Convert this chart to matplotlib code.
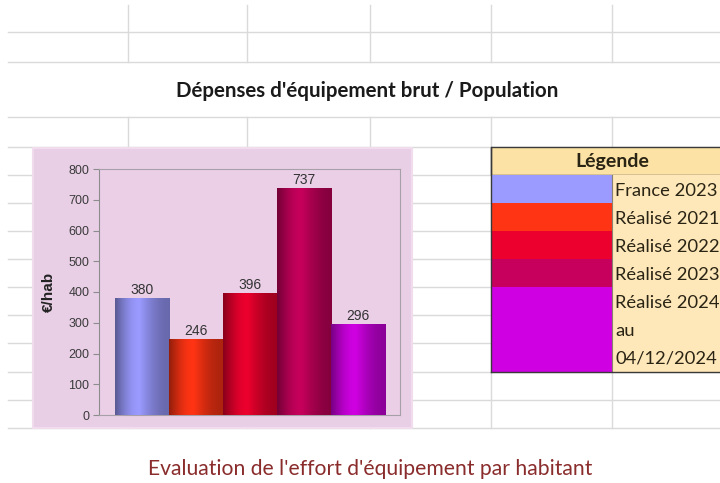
import numpy as np
import matplotlib
matplotlib.use("Agg")
import matplotlib.pyplot as plt
import matplotlib.colors as mcolors
from matplotlib.patches import Rectangle

# données du graphique
series = ["France 2023", "Réalisé 2021", "Réalisé 2022", "Réalisé 2023",
          "Réalisé 2024\nau\n04/12/2024"]
valeurs = [380, 246, 396, 737, 296]
couleurs = ["#9a9aff", "#ff3414", "#ec002e", "#c6005c", "#cf00e2"]
yticks = [0, 100, 200, 300, 400, 500, 600, 700, 800]

titre = "Dépenses d'équipement brut / Population"
sous_titre = "Evaluation de l'effort d'équipement par habitant"

W, H = 720, 483
fig = plt.figure(figsize=(W / 100, H / 100), dpi=100)
fig.patch.set_facecolor("white")

# fond "feuille excel" en coordonnées pixels
ax0 = fig.add_axes([0, 0, 1, 1])
ax0.set_xlim(0, W)
ax0.set_ylim(H, 0)
ax0.axis("off")

grid_col = "#dadada"
rows = [32, 62, 117, 147, 175, 203, 231, 259, 287, 315, 343, 372, 400, 428]
for y in rows:
    ax0.plot([8, W], [y, y], color=grid_col, lw=1, zorder=1)
for x in [128, 247, 370, 491, 612]:
    ax0.plot([x, x], [5, 62], color=grid_col, lw=1, zorder=1)
    ax0.plot([x, x], [117, 428], color=grid_col, lw=1, zorder=1)

ax0.text(176, 97, titre, fontsize=14.8, fontweight="bold", family="Lato",
         color="#1a1a1a", ha="left", va="baseline", zorder=3)
ax0.text(148, 475, sous_titre, fontsize=15.2, family="Lato",
         color="#8a2c2c", ha="left", va="baseline", zorder=3)

# zone du graphique
ax0.add_patch(Rectangle((33, 148), 379, 280, facecolor="#e9cfe6",
                        edgecolor="#f1dcee", lw=1.5, zorder=2))

# tableau légende
ax0.add_patch(Rectangle((491, 147), 240, 28, facecolor="#fde2a6",
                        edgecolor="#3a3a3a", lw=1, zorder=2))
ax0.text(612, 167, "Légende", fontsize=14, fontweight="bold", family="Lato",
         color="#2a2414", ha="center", va="baseline", zorder=3)
bornes = [175, 203, 231, 259, 287, 372]
for i, lab in enumerate(series):
    y0, y1 = bornes[i], bornes[i + 1]
    ax0.add_patch(Rectangle((491, y0), 121, y1 - y0, facecolor=couleurs[i],
                            edgecolor="none", zorder=2))
    ax0.add_patch(Rectangle((612, y0), 120, y1 - y0, facecolor="#fee8ba",
                            edgecolor="none", zorder=2))
    for k, ligne in enumerate(lab.split("\n")):
        ax0.text(615, y0 + 21 + 28 * k, ligne, fontsize=13.2, family="Lato",
                 color="#2a2414", ha="left", va="baseline", zorder=3)
ax0.plot([491, 491], [147, 372], color="#3a3a3a", lw=1, zorder=4)
ax0.plot([612, 612], [175, 372], color="#8a8070", lw=0.8, zorder=4)
ax0.plot([491, W], [372, 372], color="#3a3a3a", lw=1, zorder=4)

# axes du graphique
px0, px1, py0, py1 = 99, 400, 169, 415
ax = fig.add_axes([px0 / W, (H - py1) / H, (px1 - px0) / W, (py1 - py0) / H])
ax.set_facecolor("#eacfe7")

x = np.arange(len(valeurs))
barres = ax.bar(x, valeurs, width=1.0, color=couleurs, edgecolor="none", zorder=2)

t = np.linspace(0, 1, 80)
p = 0.45
f = np.where(t < p, 0.58 + 0.42 * np.sin(np.pi / 2 * t / p),
             1.0 - 0.32 * np.sin(np.pi / 2 * (t - p) / (1 - p)))
for b, c in zip(barres, couleurs):
    base = np.array(mcolors.to_rgb(c))
    img = np.clip(base[None, None, :] * f[None, :, None], 0, 1)
    im = ax.imshow(img, extent=(b.get_x(), b.get_x() + b.get_width(), 0, b.get_height()),
                   aspect="auto", interpolation="bilinear", zorder=3)
    im.set_clip_path(b)

ax.bar_label(barres, labels=[str(v) for v in valeurs], padding=1,
             fontsize=10, color="#333333", family="Liberation Sans", zorder=4)

ax.set_xlim(-0.796, 4.778)
ax.set_ylim(0, 800)
ax.set_yticks(yticks)
ax.set_xticks([])
ax.tick_params(axis="y", length=4, width=0.8, color="#8c8c8c", labelsize=9,
               labelcolor="#3a3a3a", pad=3)
for lab in ax.get_yticklabels():
    lab.set_family("Liberation Sans")
for s in ["top", "right", "bottom"]:
    ax.spines[s].set_color("#a8a0a8")
    ax.spines[s].set_linewidth(0.8)
ax.spines["left"].set_color("#8c8c8c")
ax.spines["left"].set_linewidth(0.8)
ax.set_ylabel("€/hab", fontsize=11, fontweight="bold", family="Liberation Sans",
              color="#222222", labelpad=9)

fig.savefig("out.png", dpi=100, facecolor="white")
